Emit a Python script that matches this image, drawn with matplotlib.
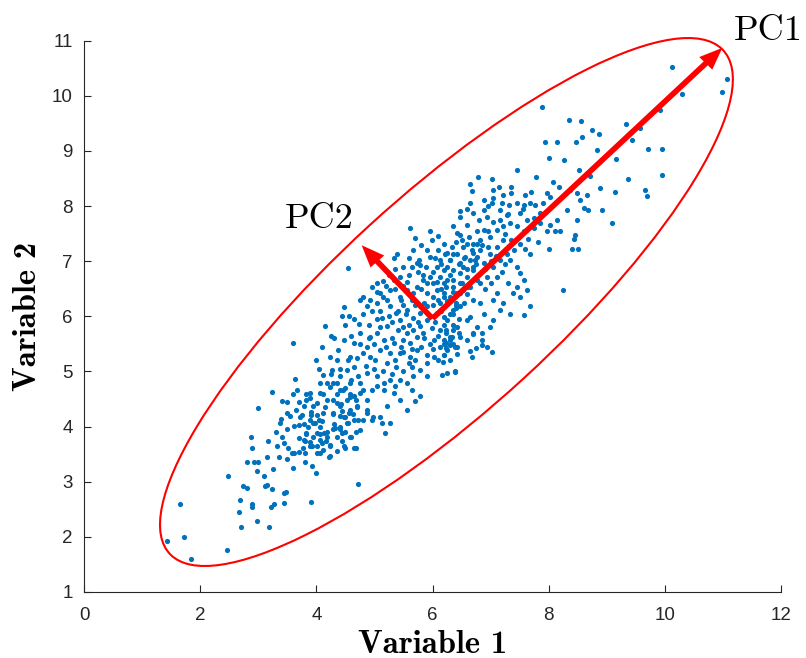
import matplotlib
matplotlib.use("Agg")
import matplotlib.pyplot as plt
from matplotlib.patches import Ellipse, FancyArrow

# scatter points, grouped by region
lower_tail = [
    (1.43, 1.93), (1.66, 2.59), (1.72, 2.00), (1.84, 1.59), (2.47, 1.77), (2.48, 3.11), (2.67, 2.45), (2.71, 2.18), (2.98, 2.28), (3.19, 2.18),
    (2.69, 2.66), (2.89, 2.60), (2.90, 2.55), (2.73, 2.92), (2.81, 2.89), (3.12, 2.92), (3.15, 2.94), (3.24, 2.87), (3.22, 2.54), (3.27, 2.60),
    (3.44, 2.80), (3.47, 2.81), (3.45, 2.62), (3.91, 2.63), (3.99, 3.16), (3.93, 3.29), (3.25, 3.23), (2.81, 3.35), (2.92, 3.36), (2.99, 3.35),
    (2.98, 3.20), (3.50, 3.41), (4.72, 2.95), (2.88, 3.82), (2.90, 3.62), (3.17, 3.73), (3.32, 3.64), (3.00, 4.34), (3.24, 4.62), (3.41, 4.46),
    (3.41, 3.81), (3.52, 3.61), (3.58, 3.53), (3.62, 3.53), (3.70, 3.54), (3.77, 3.61), (3.37, 4.07), (3.39, 4.13), (3.62, 4.02), (3.70, 4.03),
    (3.79, 4.05), (3.75, 4.21), (3.82, 3.87), (3.81, 3.73), (3.89, 3.72), (3.93, 3.65), (3.90, 4.27), (3.91, 4.21), (3.98, 4.06), (4.05, 4.12),
    (4.09, 4.10), (4.01, 3.88), (4.06, 3.86), (4.14, 3.89), (4.01, 3.53), (4.07, 3.53), (4.22, 3.45), (4.17, 3.73), (4.24, 3.66), (4.28, 4.22),
    (4.29, 3.95), (4.41, 3.95), (4.45, 3.74), (4.49, 3.62), (4.60, 3.82), (4.68, 3.61), (4.68, 3.90), (4.35, 4.43), (4.42, 4.41), (4.45, 4.28),
    (4.56, 4.24), (4.63, 4.22), (4.49, 4.18), (4.54, 4.07), (4.58, 4.60), (4.68, 4.48), (4.72, 4.12), (3.66, 4.66), (3.83, 4.60), (3.89, 4.51),
    (4.01, 4.42), (4.12, 4.60), (4.24, 4.72), (4.35, 4.79), (4.46, 4.66), (4.58, 4.54), (4.70, 4.36), (4.81, 4.66), (4.87, 4.24), (4.75, 4.79),
    (3.50, 3.95), (3.65, 4.30), (3.55, 4.20), (3.70, 3.80), (3.45, 3.70), (3.60, 3.25), (3.80, 3.35), (3.35, 3.45), (3.70, 4.45), (3.50, 4.25),
    (4.15, 4.35), (4.30, 4.05), (4.40, 4.20), (3.85, 4.00), (4.10, 3.70), (4.35, 3.55), (4.50, 3.90), (3.30, 3.90), (3.15, 3.45), (3.10, 3.10),
]

core = [
    (4.47, 6.17), (4.57, 6.00), (4.15, 5.83), (4.74, 5.86), (4.87, 6.19), (5.10, 6.09), (5.13, 5.97), (5.27, 6.18), (5.38, 6.06), (5.44, 5.94),
    (5.56, 6.12), (5.67, 5.97), (5.79, 6.06), (5.90, 6.18), (6.07, 6.06), (6.25, 5.94), (6.36, 6.12), (6.13, 5.76), (6.30, 5.63), (6.42, 5.45),
    (6.25, 5.39), (6.02, 5.27), (5.90, 5.15), (5.79, 5.03), (5.61, 5.27), (5.59, 5.15), (5.64, 5.09), (5.44, 5.33), (5.33, 5.51), (5.16, 5.57),
    (4.93, 5.63), (4.87, 5.45), (4.81, 5.33), (4.64, 5.51), (4.47, 5.57), (4.38, 5.39), (4.35, 5.21), (4.24, 5.27), (4.27, 5.03), (4.12, 4.94),
    (4.18, 4.79), (4.29, 4.79), (4.41, 4.91), (4.52, 5.03), (4.64, 5.09), (4.72, 4.91), (4.87, 4.97), (5.04, 4.91), (5.16, 4.79), (5.27, 4.85),
    (5.44, 4.85), (5.56, 4.79), (5.67, 4.91), (5.90, 4.91), (5.79, 4.55), (5.70, 4.46), (5.56, 4.30), (5.44, 4.49), (5.33, 4.61), (5.16, 4.67),
    (5.04, 4.73), (4.95, 4.67), (4.87, 4.49), (4.75, 4.61), (4.64, 4.55), (4.52, 4.49), (4.41, 4.37), (4.29, 4.49), (4.18, 4.49), (4.06, 4.61),
    (3.89, 4.61), (3.83, 4.49), (3.78, 4.37), (3.72, 4.18), (3.89, 4.12), (4.01, 4.21), (4.12, 4.24), (4.29, 4.24), (4.47, 4.18), (4.58, 4.30),
    (4.70, 4.37), (4.87, 4.30), (4.98, 4.18), (5.10, 4.18), (5.21, 4.37), (5.27, 4.06), (5.13, 4.06), (4.95, 4.12), (4.81, 4.12), (4.64, 4.12),
    (4.52, 4.06), (4.41, 4.00), (4.32, 3.97), (4.18, 3.91), (4.06, 4.00), (3.95, 4.06), (3.83, 3.88), (3.78, 3.76), (3.95, 3.82), (4.06, 3.76),
    (4.18, 3.82), (4.35, 3.82), (4.44, 3.88), (4.58, 3.82), (4.24, 3.64), (4.12, 3.58), (4.01, 3.64), (3.89, 3.64), (3.81, 3.52), (4.24, 3.46),
    (4.47, 3.64), (4.64, 3.61), (5.18, 3.88), (6.25, 4.97), (6.39, 5.00), (6.13, 5.45), (6.02, 5.57), (5.84, 5.70), (5.73, 5.63), (5.61, 5.51),
    (5.50, 5.57), (6.13, 6.24), (6.25, 6.27), (5.90, 5.94), (5.79, 5.82), (5.67, 5.76), (5.99, 5.79), (5.73, 5.39), (5.56, 5.70), (5.21, 5.82),
    (5.04, 5.70), (4.75, 5.70), (4.58, 5.27), (5.01, 5.21), (5.21, 5.15), (5.38, 5.09), (5.27, 5.33), (5.10, 5.39), (4.93, 5.27), (5.50, 5.00),
    (5.36, 4.73), (5.64, 4.67), (4.41, 4.67), (4.58, 4.79), (4.06, 4.79), (3.95, 4.37), (4.75, 3.94), (5.95, 6.00), (6.05, 5.90), (6.15, 6.10),
    (6.35, 5.85), (6.40, 6.25), (5.85, 6.25), (5.60, 5.85), (5.50, 6.20), (6.10, 5.65), (6.20, 5.50), (5.95, 5.50), (5.80, 5.45), (6.20, 5.30),
    (5.70, 5.20), (5.50, 5.35), (5.35, 5.20), (5.20, 5.45), (5.00, 5.50), (4.90, 5.85), (5.30, 5.90), (5.10, 5.80), (5.55, 6.05), (6.45, 5.95),
    (6.40, 6.15), (4.30, 5.60), (4.50, 5.85), (4.65, 5.95), (4.80, 6.05), (4.95, 6.10), (5.05, 6.25), (4.60, 5.65), (4.75, 5.50), (4.90, 5.60),
    (5.05, 5.95), (5.25, 6.00), (5.40, 5.75), (5.30, 5.60), (5.45, 5.45), (4.40, 5.05), (4.55, 5.20), (4.70, 5.25), (4.85, 5.10), (5.00, 5.05),
    (5.15, 5.00), (5.30, 4.95), (4.60, 4.85), (4.35, 4.60), (4.50, 4.70), (4.25, 4.95), (4.05, 5.05), (4.00, 5.20), (4.10, 5.45), (4.25, 5.65),
    (4.45, 6.00), (5.65, 5.40), (5.85, 5.60), (6.00, 5.40), (6.10, 5.20), (5.90, 5.30), (6.30, 5.20), (5.75, 5.90), (6.20, 5.85), (6.30, 6.05),
    (5.70, 6.20), (6.00, 6.20), (5.50, 5.80), (5.40, 6.10), (6.35, 5.50), (6.45, 5.70),
]

upper_left = [
    (4.75, 6.30), (4.95, 6.53), (5.10, 6.42), (5.33, 7.05), (5.39, 7.14), (5.61, 7.60), (5.70, 7.43), (5.79, 6.93), (5.73, 6.96), (5.64, 6.90),
    (5.89, 6.90), (6.01, 6.60), (6.07, 6.63), (6.34, 7.26), (6.36, 7.14), (6.19, 7.32), (6.65, 8.05), (5.90, 6.42), (5.67, 7.20), (5.76, 7.02),
    (5.96, 7.08), (6.10, 7.20), (5.99, 7.38), (5.84, 6.75), (5.56, 6.63), (5.44, 6.72), (5.21, 6.30), (4.81, 6.36), (4.55, 6.88), (3.59, 5.51),
    (3.63, 4.86), (3.60, 4.60), (3.50, 4.45), (4.92, 6.30), (6.13, 7.02), (6.25, 6.90), (6.36, 6.84), (6.47, 6.96), (6.56, 7.08), (6.68, 7.20),
    (6.76, 7.32), (6.70, 6.90), (6.59, 6.72), (6.47, 6.60), (6.36, 6.54), (6.25, 6.66), (6.13, 6.72), (6.07, 6.48), (6.19, 6.42), (6.30, 6.36),
    (6.42, 6.42), (6.53, 6.48), (6.65, 6.54), (6.76, 6.66), (6.73, 7.02), (6.50, 7.38), (6.42, 7.51), (6.59, 7.32), (6.30, 7.02), (6.22, 7.14),
    (6.07, 6.90), (5.96, 6.72), (5.84, 6.66), (5.73, 6.54), (5.67, 6.42), (5.56, 6.48), (5.44, 6.36), (5.33, 6.66), (5.27, 6.48), (5.15, 6.36),
    (5.04, 6.60), (5.05, 6.45), (5.20, 6.55), (5.35, 6.50), (5.50, 6.55), (5.60, 6.75), (5.75, 6.80), (5.90, 6.60), (6.00, 6.80), (5.50, 6.90),
    (5.35, 6.85), (5.90, 7.20), (6.05, 7.05), (5.80, 7.30), (6.10, 7.45), (5.95, 7.55), (5.60, 7.05), (5.25, 6.75), (5.45, 6.30), (5.65, 6.30),
    (6.00, 6.35), (6.15, 6.50), (5.15, 6.65), (5.80, 6.50), (6.10, 6.30),
]

upper_right = [
    (6.79, 8.53), (7.02, 8.49), (7.45, 8.65), (7.79, 8.52), (6.65, 8.40), (6.68, 8.28), (7.05, 8.30), (7.36, 8.35), (7.36, 8.24), (7.22, 8.20),
    (6.88, 8.11), (7.02, 8.06), (6.47, 7.92), (6.47, 7.81), (6.70, 7.87), (6.88, 7.93), (7.31, 8.02), (7.45, 8.05), (7.57, 8.02), (7.68, 8.05),
    (7.77, 8.02), (7.97, 8.23), (8.02, 8.17), (8.08, 8.44), (8.17, 8.35), (8.37, 8.29), (8.48, 8.23), (8.66, 8.20), (8.54, 8.11), (8.60, 7.96),
    (8.68, 7.93), (8.89, 8.32), (8.91, 7.93), (9.14, 8.26), (9.09, 7.69), (8.31, 7.93), (8.48, 7.75), (8.14, 7.75), (8.02, 7.66), (8.11, 7.54),
    (8.20, 7.54), (8.43, 7.41), (8.45, 7.48), (8.40, 7.23), (8.51, 7.23), (8.25, 6.48), (7.97, 7.54), (7.82, 7.35), (7.68, 7.14), (7.59, 7.23),
    (8.00, 7.23), (6.36, 7.63), (6.47, 7.48), (6.59, 7.66), (6.62, 7.44), (6.76, 7.54), (6.82, 7.38), (6.88, 7.57), (6.99, 7.44), (7.11, 7.57),
    (7.22, 7.63), (7.34, 7.69), (7.45, 7.63), (7.57, 7.54), (7.16, 7.93), (7.28, 7.84), (7.51, 7.87), (7.62, 7.75), (7.74, 7.78), (7.85, 7.87),
    (6.93, 7.81), (7.05, 7.72), (7.16, 7.75), (7.36, 7.38), (7.51, 7.32), (7.28, 7.14), (7.34, 7.02), (7.45, 6.90), (7.51, 6.78), (7.57, 6.66),
    (7.45, 6.54), (7.39, 6.42), (7.51, 6.36), (7.62, 6.48), (7.68, 6.18), (7.57, 6.02), (7.34, 6.05), (7.22, 6.24), (7.11, 6.42), (7.16, 6.11),
    (7.05, 5.93), (6.99, 5.81), (6.88, 6.05), (6.82, 6.24), (6.70, 6.30), (6.65, 5.99), (6.76, 5.81), (6.70, 5.69), (6.19, 6.84), (6.30, 7.02),
    (6.42, 7.14), (6.24, 6.54), (6.36, 6.66), (6.47, 6.78), (6.30, 6.30), (6.47, 6.42), (6.59, 6.54), (6.19, 5.99), (6.36, 6.05), (6.47, 6.18),
    (6.24, 5.75), (6.42, 5.81), (6.30, 5.57), (6.59, 5.93), (6.53, 6.90), (6.65, 7.02), (6.76, 7.08), (6.70, 6.84), (6.88, 6.96), (6.99, 7.14),
    (6.93, 6.72), (6.82, 6.60), (7.11, 6.72), (7.05, 6.90), (7.16, 7.02), (6.70, 7.32), (6.53, 7.26), (7.11, 7.26), (7.22, 7.38), (6.82, 7.20),
    (6.20, 6.60), (6.30, 6.75), (6.45, 6.95), (6.55, 7.05), (6.60, 6.85), (6.70, 7.15), (6.75, 6.95), (6.35, 6.45), (6.50, 6.60), (6.60, 6.40),
    (6.20, 6.35), (6.40, 6.20), (6.55, 6.25), (6.15, 6.95), (6.25, 7.15), (6.40, 7.35), (6.85, 7.30), (6.95, 7.55), (7.00, 7.00), (6.90, 6.50),
    (6.36, 5.75), (6.47, 5.62), (6.59, 5.57), (6.70, 5.68), (6.85, 5.69), (6.85, 5.57), (6.85, 5.48), (6.93, 5.44), (7.03, 5.35), (6.75, 5.42),
    (6.65, 5.38), (6.68, 5.27), (6.43, 5.32), (6.39, 4.99), (6.16, 4.94), (6.18, 5.18), (6.20, 5.30), (6.24, 5.42), (6.30, 5.48), (6.39, 5.45),
    (6.24, 5.51), (6.33, 5.63), (6.19, 5.57), (6.24, 5.69), (6.95, 7.25), (7.10, 7.10), (7.25, 7.50), (7.40, 7.20), (7.30, 7.85), (7.20, 8.05),
    (7.05, 8.15), (7.55, 7.95), (7.65, 7.40), (7.75, 7.60), (7.85, 7.70), (7.90, 8.05), (7.70, 8.25), (6.80, 7.75), (6.60, 7.95), (7.00, 6.60),
    (7.20, 6.80), (7.30, 6.60), (7.05, 6.30), (6.90, 6.85), (7.25, 6.95), (6.95, 8.00), (7.15, 8.35), (7.60, 8.20),
]

upper_tail = [
    (10.12, 10.52), (11.07, 10.30), (10.99, 10.07), (10.30, 10.03), (9.92, 9.74), (8.35, 9.57), (8.56, 9.54), (8.75, 9.38), (8.87, 9.30), (8.57, 9.25),
    (8.47, 9.16), (9.33, 9.48), (9.57, 9.41), (9.43, 9.20), (9.71, 9.03), (9.95, 9.03), (8.84, 9.02), (8.27, 8.83), (9.16, 8.86), (8.52, 8.65),
    (8.71, 8.54), (9.37, 8.50), (9.95, 8.56), (9.66, 8.29), (9.69, 8.19), (7.89, 9.79), (7.94, 9.16), (8.14, 9.17), (8.01, 8.87),
]

# principal component arrows (start, end) and the confidence ellipse
origin = (6.0, 5.96)
pc1_tip = (10.99, 10.87)
pc2_tip = (4.78, 7.29)
ell_center = (6.24, 6.26)
ell_axes = (13.2, 3.84)
ell_angle = 44

plt.rcParams['font.family'] = ['Liberation Sans', 'DejaVu Sans']

fig = plt.figure(figsize=(8.06, 6.58), dpi=100)
ax = fig.add_axes([84 / 806, 66 / 658, 697 / 806, 551.3 / 658])

for region in [lower_tail, core, upper_left, upper_right, upper_tail]:
    xs = [p[0] for p in region]
    ys = [p[1] for p in region]
    ax.scatter(xs, ys, s=14, color='#0072BD', linewidths=0, zorder=2)

ax.add_patch(Ellipse(ell_center, ell_axes[0], ell_axes[1], angle=ell_angle,
                     fill=False, edgecolor='red', linewidth=1.5, zorder=3, clip_on=False))

for tip in [pc1_tip, pc2_tip]:
    ax.add_patch(FancyArrow(origin[0], origin[1], tip[0] - origin[0], tip[1] - origin[1],
                            width=0.1, head_width=0.32, head_length=0.4,
                            length_includes_head=True, color='red', linewidth=0, zorder=4))

ax.text(11.19, 11.01, 'PC1', fontsize=26, family='cmr10', ha='left', va='baseline')
ax.text(3.46, 7.60, 'PC2', fontsize=26, family='cmr10', ha='left', va='baseline')

ax.set_xlim(0, 12)
ax.set_ylim(1, 11)
ax.set_xticks(range(0, 13, 2))
ax.set_yticks(range(1, 12))
for side in ['top', 'right']:
    ax.spines[side].set_visible(False)
for side in ['left', 'bottom']:
    ax.spines[side].set_color('#262626')
    ax.spines[side].set_linewidth(0.8)
ax.tick_params(direction='in', length=5, width=0.8, colors='#262626', labelsize=13.5)
ax.tick_params(axis='x', pad=11)
ax.tick_params(axis='y', pad=8)

ax.set_xlabel('Variable 1', fontsize=23.5, family='cmb10', labelpad=4)
ax.set_ylabel('Variable 2', fontsize=23.5, family='cmb10', labelpad=7)

fig.savefig('out.png', dpi=100)
